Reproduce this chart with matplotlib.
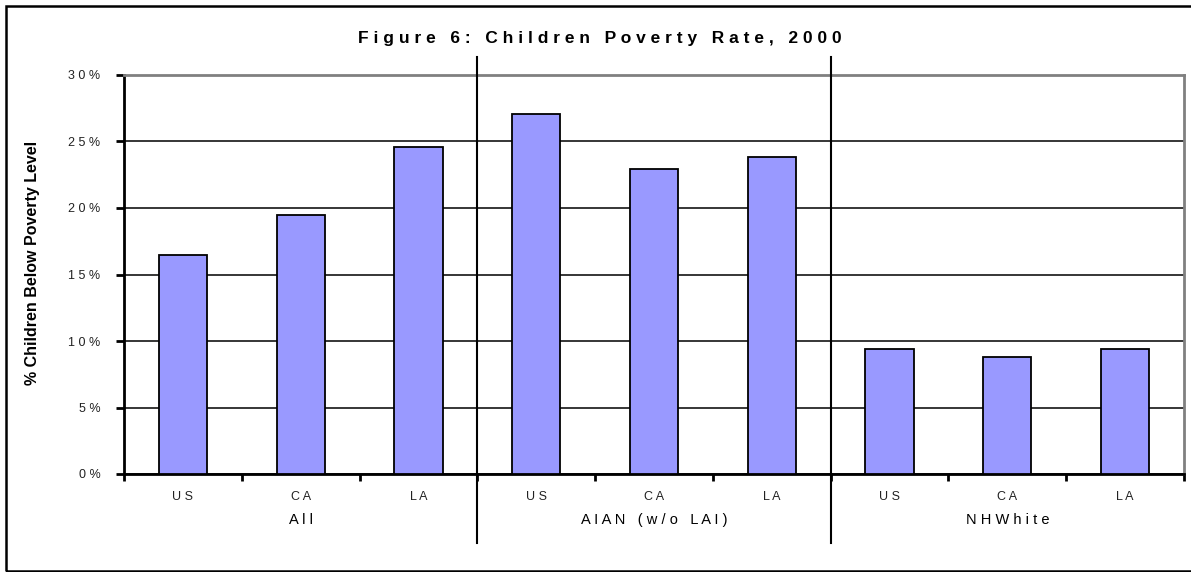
"""
Children poverty rate, 2000: grouped bar chart by population and area.
"""

import matplotlib.pyplot as plt
import matplotlib.patches as mpatches
from matplotlib.lines import Line2D
from matplotlib.transforms import Bbox, TransformedBbox, blended_transform_factory

plt.rcParams["font.family"] = ["Liberation Sans", "DejaVu Sans"]

W, H = 1191, 572

groups  = ["All", "AIAN (w/o LAI)", "NHWhite"]
areas   = ["US", "CA", "LA"]
rates   = [16.5, 19.5, 24.6,   # All
           27.1, 22.9, 23.8,   # AIAN (w/o LAI)
           9.4, 8.8, 9.4]      # NHWhite
y_ticks = [0, 5, 10, 15, 20, 25, 30]

BAR_COL  = "#9999FF"
GREY_COL = "#808080"


def spaced(s, gap=" "):
    # old-style letter spacing: characters apart, words further apart
    return "   ".join(gap.join(w) for w in s.split(" "))


fig = plt.figure(figsize=(W / 100, H / 100), dpi=100)
ax = fig.add_axes([124 / W, 98 / H, 1060 / W, 399 / H])

x = list(range(len(rates)))
ax.bar(x, rates, width=0.41, color=BAR_COL, edgecolor="black", linewidth=1.3, zorder=3)

ax.set_xlim(-0.5, len(rates) - 0.5)
ax.set_ylim(0, 30)

# y axis
ax.set_yticks(y_ticks)
ax.set_yticklabels([" ".join(str(v)) + " %" for v in y_ticks], fontsize=9, color="#222222")
ax.tick_params(axis="y", direction="out", length=6, width=2, pad=11)
ax.yaxis.grid(True, color="black", linewidth=1.1, zorder=1)
ax.set_axisbelow(True)

# x axis: area names under bars, ticks between them
ax.set_xticks(x)
ax.set_xticklabels([" ".join(a) for a in areas] * len(groups), fontsize=9, color="#222222")
ax.tick_params(axis="x", which="major", length=0, pad=12)
ax.set_xticks([i - 0.5 for i in range(len(rates) + 1)], minor=True)
ax.tick_params(axis="x", which="minor", direction="out", length=5, width=2)

for side in ("left", "bottom"):
    ax.spines[side].set_linewidth(2)
    ax.spines[side].set_color("black")
for side in ("top", "right"):
    ax.spines[side].set_linewidth(2)
    ax.spines[side].set_color(GREY_COL)

# group labels and separators
blend = blended_transform_factory(ax.transData, fig.transFigure)
for gi, g in enumerate(groups):
    ax.text(gi * 3 + 1, 1 - 520 / H, spaced(g), transform=blend,
            ha="center", va="center", fontsize=10.5)
for gi in range(1, len(groups)):
    ax.add_line(Line2D([gi * 3 - 0.5] * 2, [1 - 57 / H, 1 - 543 / H], transform=blend,
                       color="black", linewidth=1.5, clip_on=False, zorder=5))

# title
fig.text(600 / W, 1 - 43 / H, spaced("Figure 6: Children Poverty Rate, 2000"),
         ha="center", va="baseline", fontsize=12.5, fontweight="bold")

# y label, cut off at the top like the original export
ylab = fig.text(33 / W, 187 / H, "% Children Below Poverty Level", rotation=90,
                ha="center", va="bottom", fontsize=11.5, fontweight="bold")
ylab.set_clip_box(TransformedBbox(Bbox([[0, 0], [0.1, 435 / H]]), fig.transFigure))
ylab.set_clip_on(True)

# outer frame
fig.add_artist(mpatches.Rectangle((5.5 / W, 1.5 / H), 1.0, 1 - 7 / H,
                                  transform=fig.transFigure, fill=False,
                                  edgecolor="black", linewidth=1.8))

fig.savefig("out.png", dpi=100, facecolor="white")
